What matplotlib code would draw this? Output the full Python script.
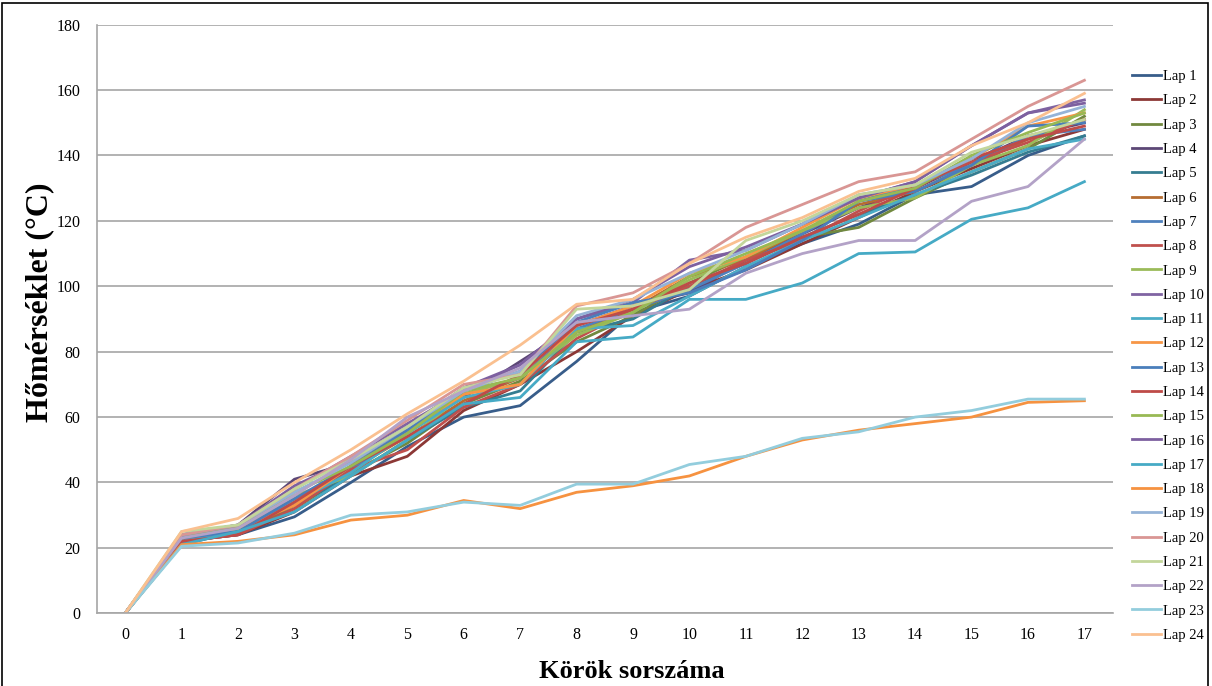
import matplotlib.pyplot as plt
import matplotlib.patches as patches
import numpy as np

# Körök (x tengely)
rounds = list(range(18))

# Hőmérséklet értékek körönként (°C)
lap1 = [0, 22, 24, 29.5, 40, 51, 60, 63.5, 77, 92, 97, 106, 113, 119, 128, 130.5, 140, 146]
lap2 = [0, 22, 24, 31, 42, 48, 62, 70, 80, 91, 99, 105, 113, 121, 129, 136, 143, 148]
lap3 = [0, 23, 25, 32, 43, 52, 64, 71, 83, 91, 101, 109, 115, 118, 127, 135, 142, 152]
lap4 = [0, 24, 27, 41, 46, 56, 66, 77, 88, 94, 98, 108, 116, 124, 130, 138, 146, 150]
lap5 = [0, 21, 25, 33, 42, 53, 63, 68, 86, 90, 100, 107, 115, 122, 128, 134, 141, 146]
lap6 = [0, 22, 25, 33, 44, 54, 65, 72, 86, 93, 103, 108, 117, 125, 129, 137, 145, 151]
lap7 = [0, 23, 26, 35, 44, 55, 67, 72, 87, 93, 99, 107, 116, 126, 131, 137, 146, 148]
lap8 = [0, 22, 24, 32, 44, 50, 63, 70, 84, 93, 100, 108, 114, 123, 131, 138, 144, 151]
lap9 = [0, 23, 26, 36, 42, 53, 67, 72, 85, 92, 102, 109, 117, 124, 127, 137, 143, 154]
lap10 = [0, 23, 26, 38, 48, 58, 68, 76, 90, 95, 108, 111, 119, 127, 132, 143, 153, 157]
lap11 = [0, 22, 25, 34, 43, 55, 66, 70, 87, 88, 97, 106, 114, 121, 128, 135, 142, 145]
lap12 = [0, 23, 26, 33, 45, 56, 67, 70, 88, 94, 104, 109, 118, 127, 131, 139, 149, 153]
lap13 = [0, 23, 25, 35, 45, 56, 68, 74, 89, 95, 98, 105, 114, 126, 129, 137, 149, 150]
lap14 = [0, 22, 24, 34, 45, 54, 64, 73, 88, 93, 101, 107, 115, 122, 130, 139, 145, 149]
lap15 = [0, 24, 26, 37, 45, 55, 68, 72, 86, 92, 103, 110, 117, 126, 130, 140, 147, 153]
lap16 = [0, 24, 27, 39, 47, 57, 69, 76, 90, 96, 106, 112, 119, 127, 132, 143, 153, 156]
lap17 = [0, 21, 25, 31, 42, 53, 64, 66, 83, 84.5, 96, 96, 101, 110, 110.5, 120.5, 124, 132]
lap18 = [0, 21, 22, 24, 28.5, 30, 34.5, 32, 37, 39, 42, 48, 53, 56, 58, 60, 64.5, 65]
lap19 = [0, 24, 27, 37, 46, 57, 68, 74, 91, 96, 104, 111, 119, 128, 131, 139, 150, 155]
lap20 = [0, 24, 27, 38, 48, 59, 70, 73, 94, 98, 107, 118, 125, 132, 135, 145, 155, 163]
lap21 = [0, 25, 27, 38, 47, 57, 69, 73, 93, 94, 99, 114, 120, 128, 131, 141, 146, 151]
lap22 = [0, 23, 26, 36, 47, 60, 68, 75, 89, 91, 93, 104, 110, 114, 114, 126, 130.5, 145]
lap23 = [0, 20.5, 21.5, 24.5, 30, 31, 34, 33, 39.5, 39.5, 45.5, 48, 53.5, 55.5, 60, 62, 65.5, 65.5]
lap24 = [0, 25, 29, 40, 50, 61, 71, 82, 94.5, 96, 107, 115, 121, 129, 133, 143, 150, 159]

laps = [lap1, lap2, lap3, lap4, lap5, lap6, lap7, lap8, lap9, lap10, lap11, lap12,
        lap13, lap14, lap15, lap16, lap17, lap18, lap19, lap20, lap21, lap22, lap23, lap24]
labels = ['Lap %d' % (i + 1) for i in range(24)]

colors = ['#385D8A', '#8C3836', '#71893F', '#5C4776', '#357D91', '#B66D31',
          '#4F81BD', '#C0504D', '#9BBB59', '#8064A2', '#4BACC6', '#F79646',
          '#4A7EBB', '#BE4B48', '#98B954', '#7D60A0', '#46AAC5', '#F69240',
          '#95B3D7', '#D99694', '#C3D69B', '#B3A2C7', '#93CDDD', '#FAC090']

plt.rcParams['font.family'] = ['Liberation Serif', 'DejaVu Serif']

fig = plt.figure(figsize=(12.12, 6.86), dpi=100)
ax = fig.add_axes([0.080, 0.106, 0.838, 0.858])

for vals, lab, col in zip(laps, labels, colors):
    ax.plot(rounds, vals, color=col, lw=2.0, label=lab)

ax.set_xlim(-0.5, 17.5)
ax.set_ylim(0, 180)
ax.set_xticks(rounds)
ax.set_yticks(np.arange(0, 181, 20))
ax.tick_params(axis='both', length=0, labelsize=11.5)
ax.tick_params(axis='y', pad=12)
ax.tick_params(axis='x', pad=10)
ax.yaxis.grid(True, color='#A6A6A6', lw=1.2)
ax.set_axisbelow(True)
for s in ['top', 'right']:
    ax.spines[s].set_visible(False)
for s in ['left', 'bottom']:
    ax.spines[s].set_color('#A6A6A6')
    ax.spines[s].set_linewidth(1.2)

# Tengelyfeliratok
fig.text(40 / 1212, 1 - 302 / 686, 'Hőmérséklet (°C)', rotation=90, ha='center', va='center',
         fontsize=23, fontweight='bold')
fig.text(632 / 1212, 1 - 671 / 686, 'Körök sorszáma', ha='center', va='center',
         fontsize=19, fontweight='bold')

ax.legend(loc='upper left', bbox_to_anchor=(0.934, 0.898), bbox_transform=fig.transFigure,
          frameon=False, fontsize=10.5, labelspacing=0.76, handlelength=2.0,
          handletextpad=0.15, borderaxespad=0, borderpad=0)

# Keret a kép körül
fig.patches.append(patches.Rectangle((0.002, -0.05), 0.995, 1.046, transform=fig.transFigure,
                                     fill=False, edgecolor='black', lw=1.2))

fig.savefig('out.png', dpi=100)
